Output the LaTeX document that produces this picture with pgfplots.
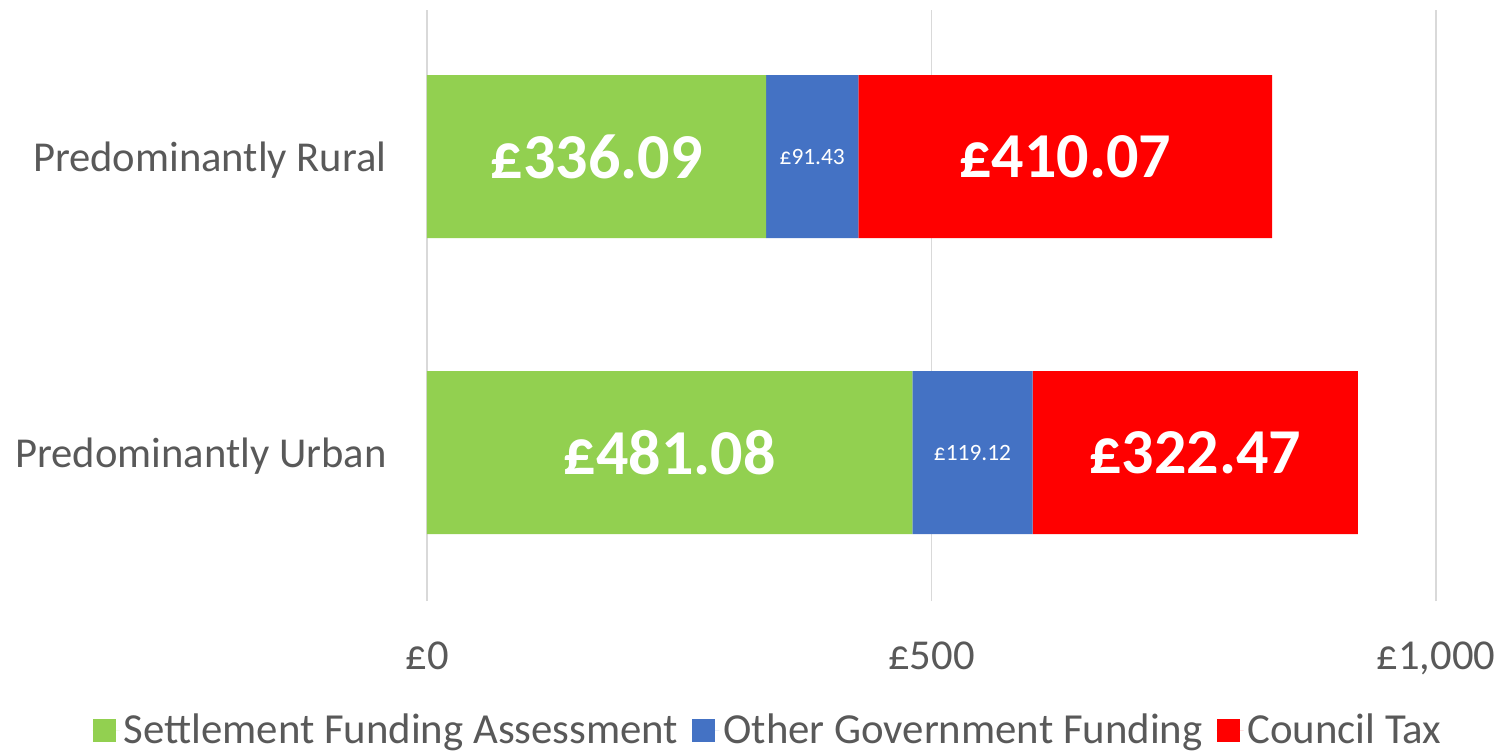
\documentclass[border=0pt]{standalone}
\usepackage{fontspec}
\setmainfont{Carlito}
\usepackage{pgfplots}
\pgfplotsset{compat=1.18}
\definecolor{sfa}{HTML}{92D050}
\definecolor{ogf}{HTML}{4472C4}
\definecolor{ctax}{HTML}{FF0000}
\definecolor{txt}{HTML}{595959}
\definecolor{gridc}{HTML}{D9D9D9}
\begin{document}
\begin{tikzpicture}
\useasboundingbox (-213.5pt,-75.5pt) rectangle (538.5pt,300.5pt);
\begin{axis}[
  at={(0pt,0pt)}, anchor=south west,
  scale only axis, width=504.5pt, height=295.5pt,
  xbar stacked, bar width=81.5pt,
  xmin=0, xmax=1000, ymin=-0.5017, ymax=1.495,
  axis line style={draw=none},
  major tick length=0pt,
  xmajorgrids, grid style={gridc, line width=0.9pt},
  xtick={0,500,1000}, xticklabels={{£0},{£500},{£1,000}},
  ytick={0,1}, yticklabels={Predominantly Urban, Predominantly Rural},
  tick label style={font=\fontsize{21.3}{25}\selectfont, text=txt},
  xticklabel style={anchor=base, inner sep=0pt, yshift=-34pt},
  yticklabel style={anchor=east, inner sep=0pt, xshift=-20pt, yshift=-1.8pt},
  legend columns=3,
  legend style={at={(0.339,-0.219)}, anchor=center, draw=none,
    font=\fontsize{21.4}{25}\selectfont, text=txt,
    /tikz/every even column/.append style={column sep=5pt}},
  legend image code/.code={\fill[#1, draw=none] (0pt,-5.75pt) rectangle (11.5pt,5.75pt); \path (0pt,0pt) -- (13.5pt,0pt);},
  point meta=explicit symbolic,
  nodes near coords,
  nodes near coords style={anchor=center, text=white},
]
\addplot[fill=sfa, draw=none, nodes near coords style={font=\bfseries\fontsize{32}{38}\selectfont}]
  coordinates {(481.08,0) [£481.08] (336.09,1) [£336.09]};
\addplot[fill=ogf, draw=none, nodes near coords style={font=\fontsize{11.7}{14}\selectfont}]
  coordinates {(119.12,0) [£119.12] (91.43,1) [£91.43]};
\addplot[fill=ctax, draw=none, nodes near coords style={font=\bfseries\fontsize{32}{38}\selectfont}]
  coordinates {(322.47,0) [£322.47] (410.07,1) [£410.07]};
\legend{Settlement Funding Assessment, Other Government Funding, Council Tax}
\end{axis}
\end{tikzpicture}
\end{document}
